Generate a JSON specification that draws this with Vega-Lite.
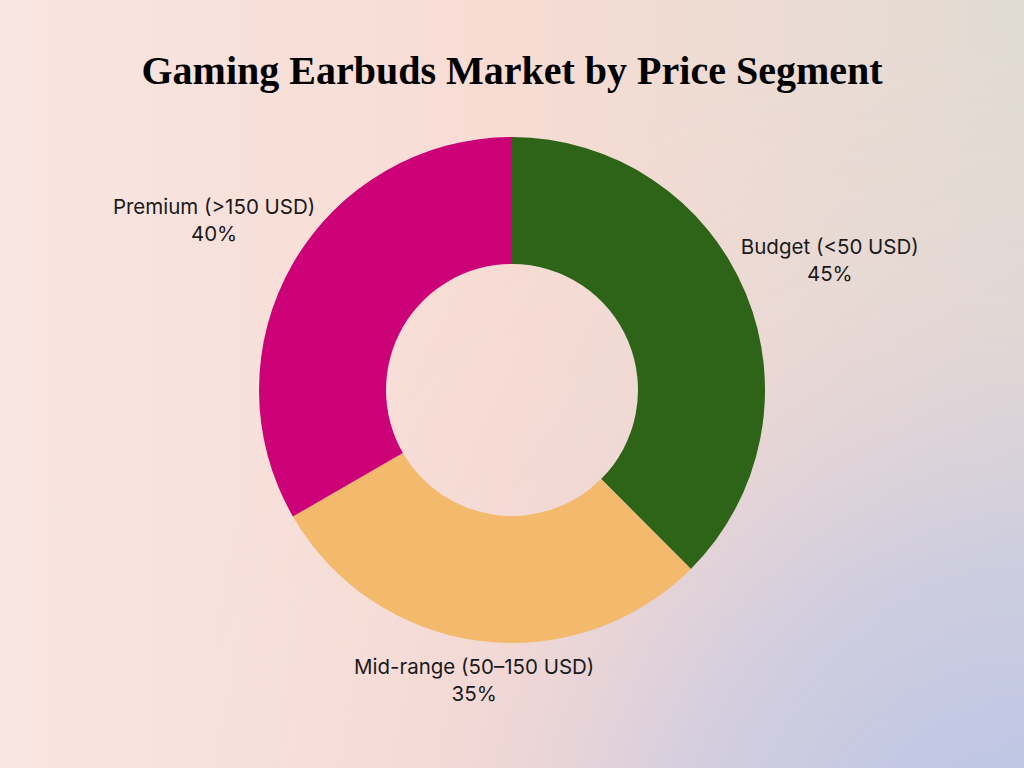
{
  "$schema": "https://vega.github.io/schema/vega-lite/v6.json",
  "width": 1024,
  "height": 780,
  "autosize": "none",
  "padding": {"top": 0, "left": 0, "right": 0, "bottom": -12},
  "background": "#f7e2de",
  "config": {"view": {"stroke": null}},
  "title": {
    "text": "Gaming Earbuds Market by Price Segment",
    "font": "Liberation Serif",
    "fontWeight": "bold",
    "fontSize": 40,
    "color": "#000000",
    "anchor": "middle",
    "offset": -92
  },
  "layer": [
    {
      "data": {"values": [{"bg": 1}]},
      "mark": {
        "type": "rect",
        "fill": {
          "gradient": "linear",
          "x1": 0, "y1": 0, "x2": 1, "y2": 0,
          "stops": [
            {"offset": 0, "color": "#f9e5e1"},
            {"offset": 0.5, "color": "#f7dcd3"},
            {"offset": 1, "color": "#e1dbd3"}
          ]
        }
      },
      "encoding": {}
    },
    {
      "data": {"values": [{"bg": 1}]},
      "mark": {
        "type": "rect",
        "fill": {
          "gradient": "radial",
          "x1": 1, "y1": 1, "r1": 0,
          "x2": 1, "y2": 1, "r2": 0.85,
          "stops": [
            {"offset": 0, "color": "rgba(180,194,233,1)"},
            {"offset": 0.4, "color": "rgba(192,196,230,0.6)"},
            {"offset": 0.7, "color": "rgba(225,200,220,0.15)"},
            {"offset": 1, "color": "rgba(240,210,220,0)"}
          ]
        }
      },
      "encoding": {}
    },
    {
      "data": {
        "values": [
          {"segment": "Budget (<50 USD)", "share": 45},
          {"segment": "Mid-range (50–150 USD)", "share": 35},
          {"segment": "Premium (>150 USD)", "share": 40}
        ]
      },
      "layer": [
        {
          "mark": {"type": "arc", "outerRadius": 253, "innerRadius": 126},
          "encoding": {
            "theta": {"field": "share", "type": "quantitative", "stack": true},
            "color": {
              "field": "segment",
              "type": "nominal",
              "sort": ["Budget (<50 USD)", "Mid-range (50–150 USD)", "Premium (>150 USD)"],
              "scale": {
                "domain": ["Budget (<50 USD)", "Mid-range (50–150 USD)", "Premium (>150 USD)"],
                "range": ["#2e6418", "#f3b96c", "#cc0077"]
              },
              "legend": null
            },
            "order": {"field": "segment", "sort": "ascending"}
          }
        },
        {
          "transform": [
            {"stack": "share", "groupby": [], "sort": [{"field": "segment", "order": "ascending"}], "as": ["s0", "s1"]},
            {"calculate": "(datum.s0 + datum.s1) / 2", "as": "mid"},
            {"calculate": "[datum.segment, datum.share + '%']", "as": "label"},
            {"filter": "datum.segment != 'Mid-range (50–150 USD)'"}
          ],
          "mark": {"type": "text", "font": "Inter", "fontSize": 20.5, "color": "#1a1a1a", "align": "center", "baseline": "middle", "lineHeight": 27, "dy": -10},
          "encoding": {
            "theta": {"field": "mid", "type": "quantitative", "stack": null},
            "radius": {"value": 344},
            "text": {"field": "label"}
          }
        },
        {
          "transform": [
            {"stack": "share", "groupby": [], "sort": [{"field": "segment", "order": "ascending"}], "as": ["s0", "s1"]},
            {"calculate": "(datum.s0 + datum.s1) / 2", "as": "mid"},
            {"calculate": "[datum.segment, datum.share + '%']", "as": "label"},
            {"filter": "datum.segment == 'Mid-range (50–150 USD)'"}
          ],
          "mark": {"type": "text", "font": "Inter", "fontSize": 20.5, "color": "#1a1a1a", "align": "center", "baseline": "middle", "lineHeight": 27, "dy": -10},
          "encoding": {
            "theta": {"field": "mid", "type": "quantitative", "stack": null},
            "radius": {"value": 290},
            "text": {"field": "label"}
          }
        }
      ]
    }
  ]
}
